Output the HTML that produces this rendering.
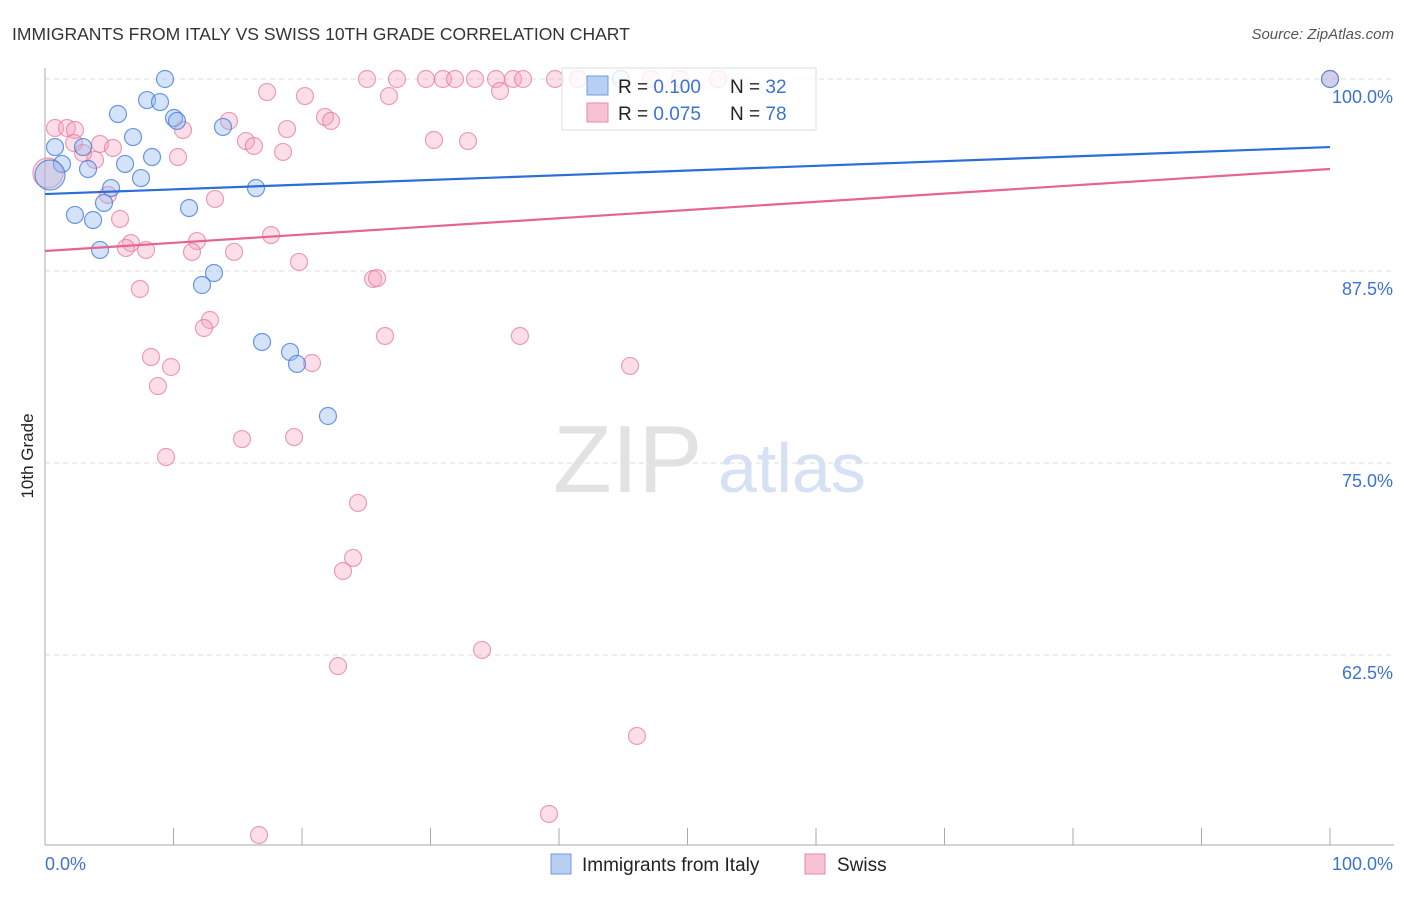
<!DOCTYPE html>
<html><head><meta charset="utf-8"><style>
body{margin:0;background:#fff;font-family:"Liberation Sans",sans-serif}
svg text{font-family:"Liberation Sans",sans-serif}
</style></head><body>
<svg id="c" width="1406" height="892">
<text x="12" y="40" font-size="17.5" fill="#333">IMMIGRANTS FROM ITALY VS SWISS 10TH GRADE CORRELATION CHART</text>
<text x="1394" y="39" font-size="15" fill="#555" font-style="italic" text-anchor="end">Source: ZipAtlas.com</text>
<text x="33" y="456" font-size="17" fill="#222" text-anchor="middle" transform="rotate(-90 33 456)">10th Grade</text>
<text x="553" y="492" font-size="96" fill="#e2e2e2" font-family="Liberation Serif">ZIP</text>
<text x="718" y="492" font-size="70" fill="#d6e1f5">atlas</text>
<g id="grid"></g><g id="marks"></g>
<g>
<rect x="562" y="68" width="254" height="62" fill="#fff" fill-opacity="0.8" stroke="#ddd"/>
<rect x="587" y="76" width="21" height="19" fill="#b7cff2" stroke="#6e9be0"/>
<rect x="587" y="103" width="21" height="19" fill="#f7c3d3" stroke="#e88aa8"/>
<text x="618" y="93" font-size="19" fill="#222">R = <tspan fill="#3b73d3">0.100</tspan></text>
<text x="730" y="93" font-size="19" fill="#222">N = <tspan fill="#3b73d3">32</tspan></text>
<text x="618" y="120" font-size="19" fill="#222">R = <tspan fill="#3b73d3">0.075</tspan></text>
<text x="730" y="120" font-size="19" fill="#222">N = <tspan fill="#3b73d3">78</tspan></text>
</g>
<g>
<rect x="551" y="854" width="20" height="20" fill="#b7cff2" stroke="#6e9be0"/>
<text x="582" y="871" font-size="19" fill="#222">Immigrants from Italy</text>
<rect x="805" y="854" width="20" height="20" fill="#f7c3d3" stroke="#e88aa8"/>
<text x="837" y="871" font-size="19" fill="#222">Swiss</text>
</g>
</svg>
<script>
const yTicks=[100,87.5,75,62.5];
const yTickLabels=["100.0%","87.5%","75.0%","62.5%"];
const xEndLabels=["0.0%","100.0%"];
const italyX=[9.34,7.94,8.95,5.68,10.04,10.27,6.85,13.85,0.78,2.96,8.33,1.32,6.23,3.35,7.47,5.14,16.42,4.59,11.21,2.33,3.74,4.28,13.15,12.22,16.89,19.07,19.61,22.02,100,0.39,44.82];
const italyY=[100,98.63,98.5,97.72,97.46,97.27,96.22,96.88,95.57,95.57,94.92,94.47,94.47,94.14,93.55,92.9,92.9,91.93,91.6,91.15,90.82,88.87,87.37,86.59,82.88,82.23,81.45,78.06,100,93.75,100];
const swissX=[25.06,27.39,29.65,30.97,31.91,33.46,35.1,36.42,37.2,39.69,41.48,47.16,49.42,52.37,100,26.77,35.41,17.28,20.23,0.78,1.71,2.33,10.74,14.32,21.79,22.26,18.83,15.64,16.26,30.27,32.92,2.26,4.28,5.29,3.89,10.35,18.52,2.96,0.23,4.9,13.23,5.84,17.59,6.69,6.3,7.86,11.83,11.44,14.71,19.77,25.53,25.84,7.39,12.84,12.37,26.46,36.96,8.25,9.81,20.78,45.53,8.79,15.33,19.38,9.42,24.36,23.97,23.19,22.8,34.01,46.07,39.22,16.65];
const swissY=[100,100,100,100,100,100,100,100,100,100,100,100,100,100,100,98.89,99.22,99.15,98.89,96.81,96.81,96.68,96.68,97.27,97.53,97.27,96.74,95.96,95.64,96.03,95.96,95.83,95.77,95.51,94.73,94.92,95.25,95.18,93.88,92.45,92.19,90.89,89.84,89.32,89,88.87,89.45,88.74,88.74,88.09,86.98,87.04,86.33,84.31,83.79,83.27,83.27,81.9,81.25,81.51,81.32,80.01,76.56,76.69,75.39,72.4,68.82,67.97,61.78,62.83,57.23,52.15,50.78];
const italyBig=[29];const swissBig=[38];
const italyTrend=[92.51,95.57];
const swissTrend=[88.8,94.14];
const NS="http://www.w3.org/2000/svg";
const sx=v=>45+v*12.85, sy=v=>79+(100-v)*15.36;
function mk(t,a,p){const e=document.createElementNS(NS,t);for(const k in a)e.setAttribute(k,a[k]);p.appendChild(e);return e;}
const g=document.getElementById('grid'),m=document.getElementById('marks');
yTicks.forEach((t,i)=>{
 const l=mk('line',{x1:45,x2:1394,y1:sy(t),y2:sy(t),stroke:'#ddd','stroke-dasharray':'5,4'},g);
 
 
 const tx=mk('text',{x:1393,y:sy(t)+24,'font-size':18,fill:'#3b73d3','text-anchor':'end'},g);tx.textContent=yTickLabels[i];
 
 
});
const ax=mk('line',{x1:45,x2:45,y1:68,y2:845,stroke:'#aaa'},g);


const bx=mk('line',{x1:45,x2:1394,y1:845,y2:845,stroke:'#aaa'},g);


for(let i=1;i<=10;i++){const t=mk('line',{x1:45+i*128.5,x2:45+i*128.5,y1:828,y2:845,stroke:'#aaa'},g);
 
 }
[[0,'start',45],[1,'end',1393]].forEach(([i,a,x])=>{const t=mk('text',{x:x,y:870,'font-size':18,fill:'#3b73d3','text-anchor':a},g);t.textContent=xEndLabels[i];
 
 });
function pts(X,Y,big,fill,st,name){X.forEach((x,i)=>{const c=mk('circle',{cx:sx(x),cy:sy(Y[i]),r:big.includes(i)?15:8.5,fill:fill,stroke:st,'stroke-width':1.2},m);
 
 });}
pts(swissX,swissY,swissBig,'rgba(244,160,188,0.35)','rgba(230,120,155,0.7)','swiss-point');
pts(italyX,italyY,italyBig,'rgba(150,185,238,0.4)','rgba(60,120,215,0.75)','italy-point');
const t1=mk('line',{x1:sx(0),y1:sy(swissTrend[0]),x2:sx(100),y2:sy(swissTrend[1]),stroke:'#e5658f','stroke-width':2.2},m);


const t2=mk('line',{x1:sx(0),y1:sy(italyTrend[0]),x2:sx(100),y2:sy(italyTrend[1]),stroke:'#2b6fd6','stroke-width':2.2},m);


</script>
</body></html>
